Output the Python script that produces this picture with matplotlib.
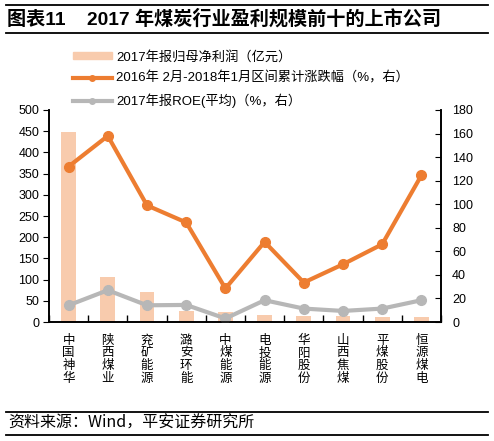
import numpy as np
import matplotlib
matplotlib.use('Agg')
import matplotlib.pyplot as plt
from matplotlib.lines import Line2D
from matplotlib.patches import Patch

plt.rcParams['font.family'] = ['Liberation Sans', 'Noto Sans CJK SC', 'DejaVu Sans']

companies = ['中国神华', '陕西煤业', '兖矿能源', '潞安环能', '中煤能源',
             '电投能源', '华阳股份', '山西焦煤', '平煤股份', '恒源煤电']
profit = [448, 105, 70, 27, 23, 16, 15, 15, 12, 12]
change = [132, 158, 99, 84.5, 28.5, 68, 33.5, 49, 66, 124.5]
roe = [14.2, 27, 14.2, 14.5, 3, 18.5, 11.4, 9.4, 11.4, 18.5]

c_bar = '#F8CBAD'
c_orange = '#ED7D31'
c_gray = '#B7B7B7'

fig = plt.figure(figsize=(4.94, 4.41), dpi=100)
ax = fig.add_axes([0.0992, 0.2698, 0.7935, 0.4808])
ax2 = ax.twinx()

x = np.arange(len(companies))
ax.bar(x, profit, width=0.38, color=c_bar, zorder=1)
ax2.plot(x, change, color=c_orange, lw=3, marker='o', ms=7, zorder=3)
ax2.plot(x, roe, color=c_gray, lw=3, marker='o', ms=7, zorder=2)

ax.set_xlim(-0.5, len(companies) - 0.5)
ax.set_ylim(0, 500)
ax.set_yticks(range(0, 501, 50))
ax2.set_ylim(0, 180)
ax2.set_yticks(range(0, 181, 20))

ax.set_xticks(np.arange(-0.5, len(companies) - 0.4, 1.0), minor=False)
ax.set_xticklabels([])
ax.tick_params(axis='x', direction='in', length=5, width=1)
for i, name in enumerate(companies):
    ax.text(i, -0.06, '\n'.join(name), transform=ax.get_xaxis_transform(),
            ha='center', va='top', fontsize=9, linespacing=1.07)

ax.tick_params(axis='y', direction='out', length=4, labelsize=9, pad=3)
ax2.tick_params(axis='y', direction='in', length=4, labelsize=9, pad=8)

for a in (ax, ax2):
    a.spines['top'].set_visible(False)
    for s in ('left', 'right', 'bottom'):
        a.spines[s].set_linewidth(1.2)

ax.set_zorder(ax2.get_zorder() - 1)
ax2.patch.set_visible(False)

handles = [Patch(color=c_bar),
           Line2D([0], [0], color=c_orange, lw=3, marker='o', ms=4),
           Line2D([0], [0], color=c_gray, lw=3, marker='o', ms=4)]
labels = ['2017年报归母净利润（亿元）',
          '2016年 2月-2018年1月区间累计涨跌幅（%，右）',
          '2017年报ROE(平均)（%，右）']
fig.legend(handles, labels, loc='upper left', bbox_to_anchor=(0.135, 0.9),
           frameon=False, fontsize=9.5, handlelength=2.9, handleheight=0.45,
           labelspacing=0.62, handletextpad=0.35, borderpad=0)

# title and frame lines
fig.add_artist(Line2D([0.012, 0.988], [0.989, 0.989], color='black', lw=1.3))
fig.add_artist(Line2D([0.012, 0.988], [0.925, 0.925], color='black', lw=1.3))
fig.text(0.014, 0.957, '图表11    2017 年煤炭行业盈利规模前十的上市公司',
         fontsize=13.8, fontweight='bold', va='center', ha='left')

fig.add_artist(Line2D([0.012, 0.988], [0.066, 0.066], color='black', lw=1.3))
fig.add_artist(Line2D([0.012, 0.988], [0.014, 0.014], color='black', lw=1.3))
fig.text(0.016, 0.040, '资料来源：Wind，平安证券研究所', fontsize=11.5,
         style='italic', va='center', ha='left',
         family=['Noto Sans CJK SC', 'DejaVu Sans'])

fig.savefig('out.png', dpi=100)
